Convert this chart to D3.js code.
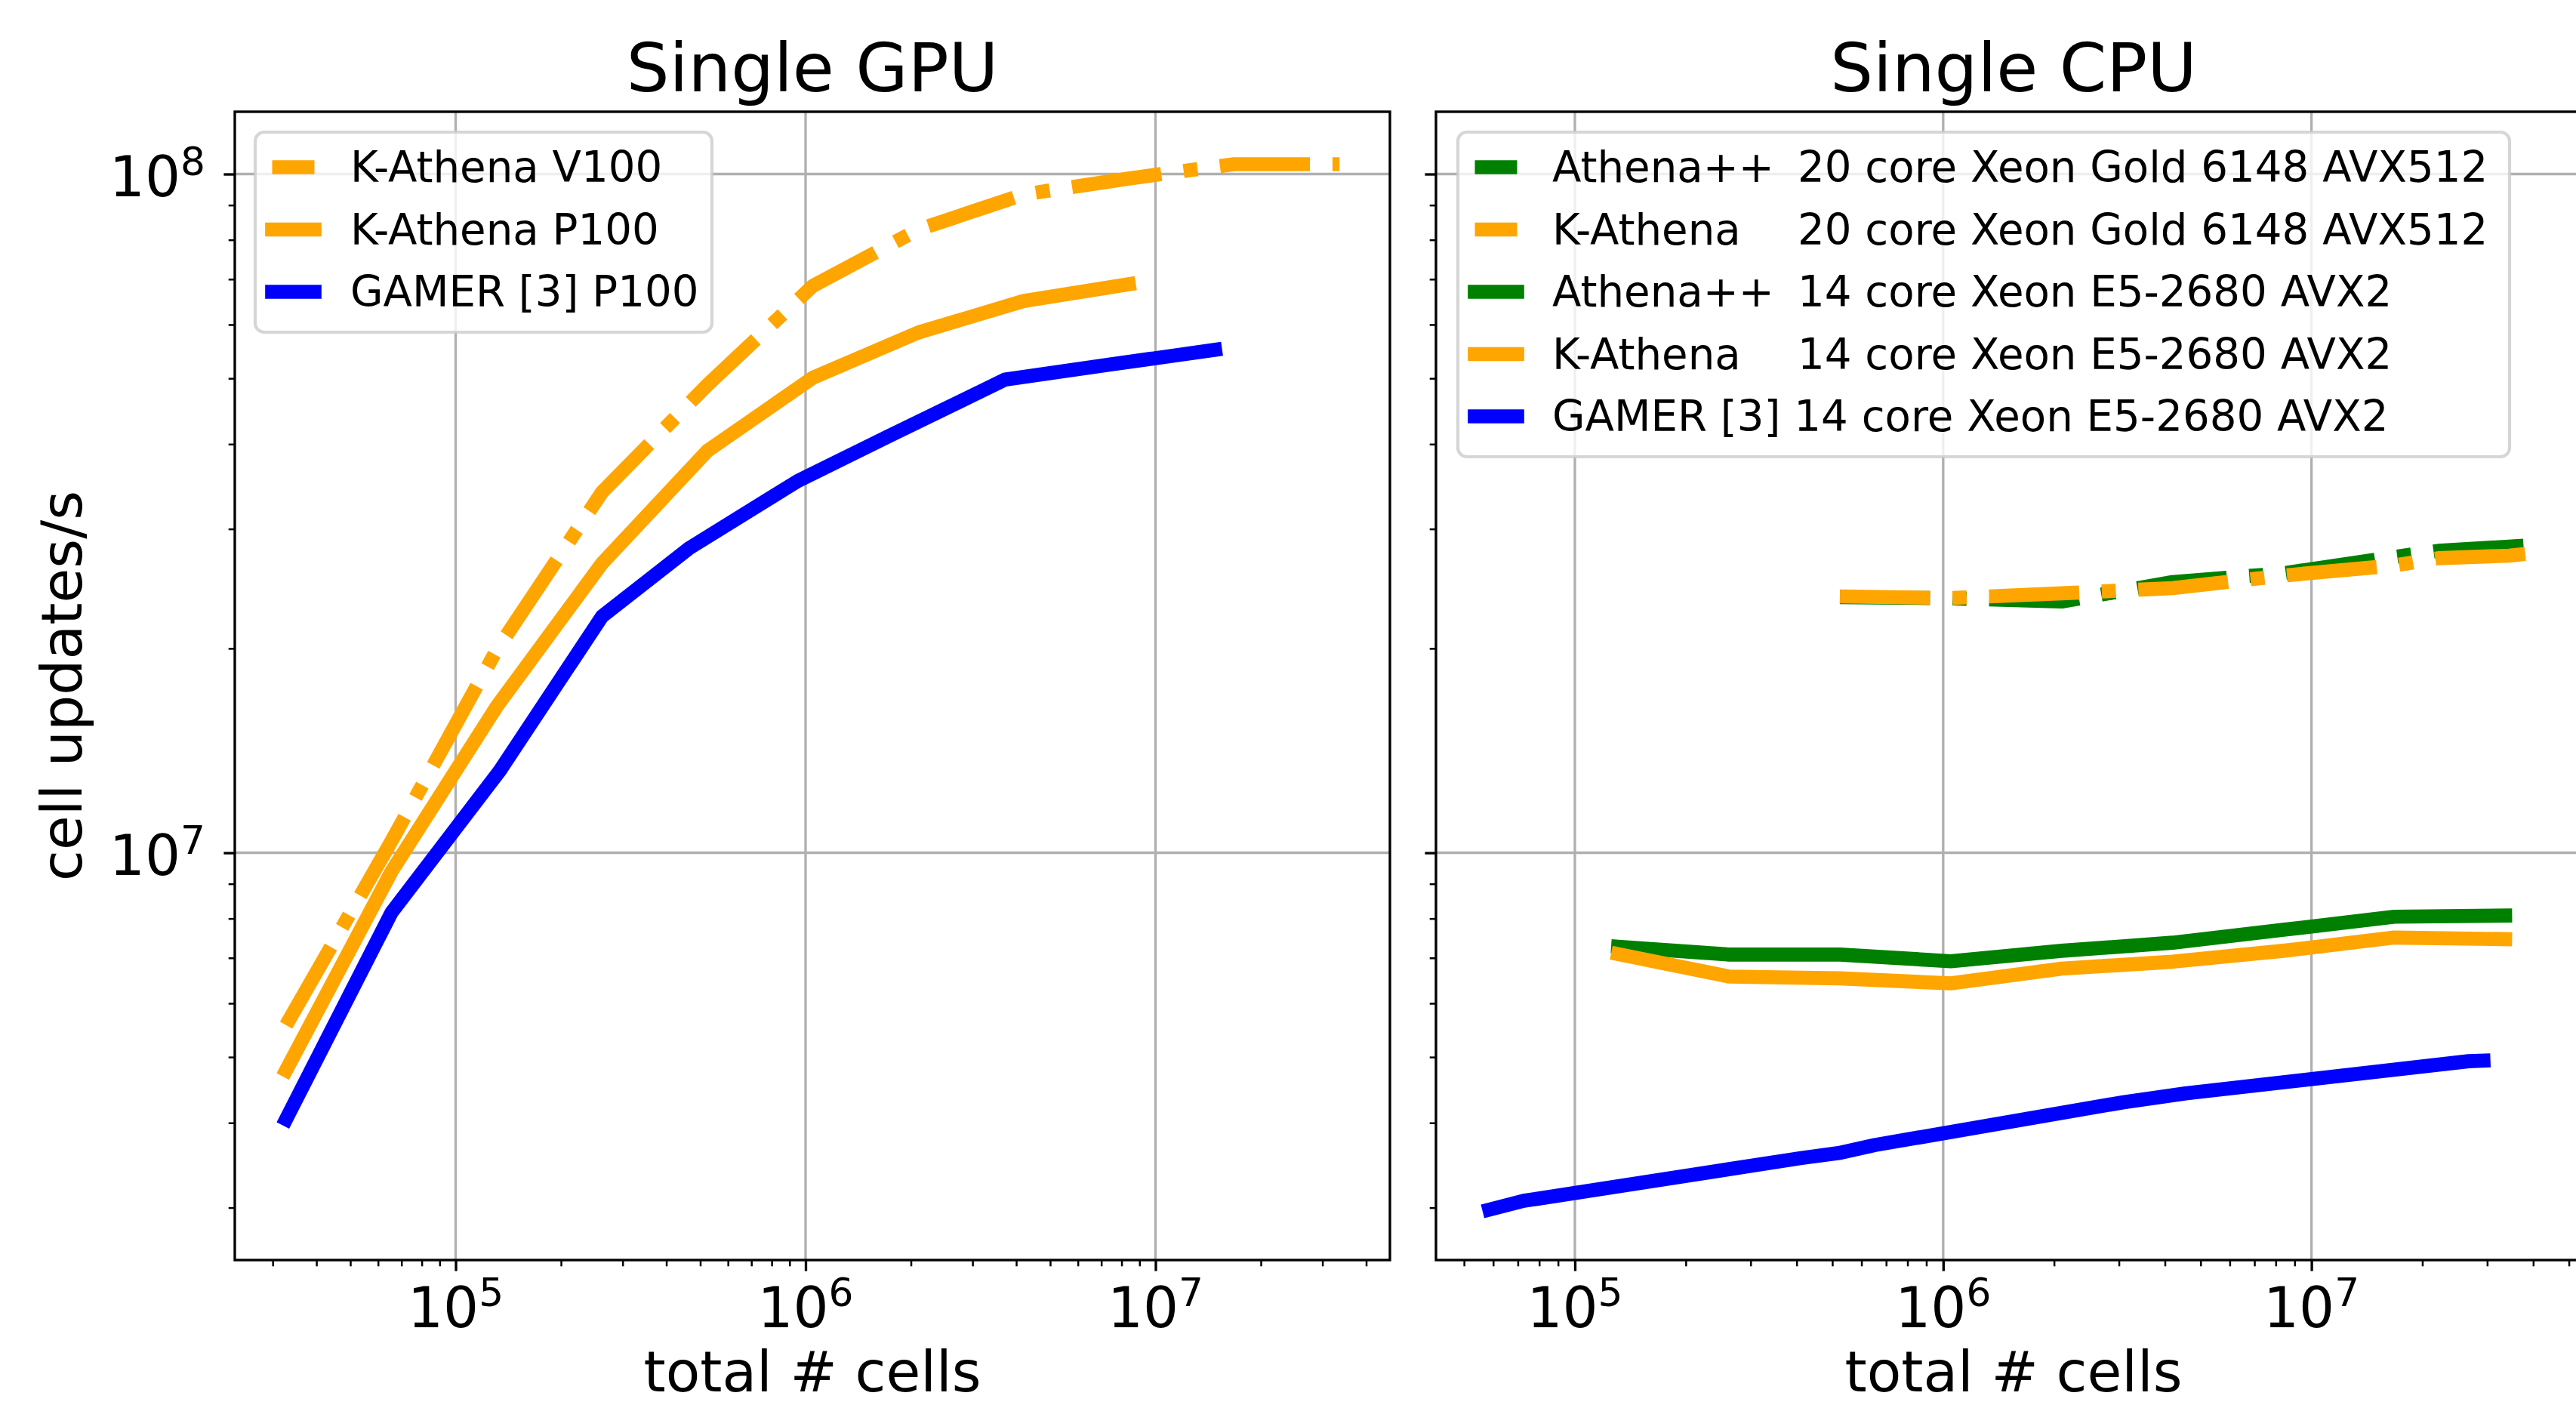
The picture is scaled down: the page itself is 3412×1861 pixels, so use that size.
<!DOCTYPE html>
<html><head><meta charset="utf-8">
<script src="https://cdn.jsdelivr.net/npm/d3@7"></script>
<style>
body{margin:0;background:#fff;overflow:hidden}
text{font-family:"DejaVu Sans",sans-serif;white-space:pre;fill:#000}
</style>
</head><body>
<svg id="chart" width="3412" height="1861"></svg>
<script>
// ---------------- DATA ----------------
const panelTitles = ["Single GPU", "Single CPU"];
const xLabel = "total # cells";
const yLabel = "cell updates/s";
const xMajorTicks = [1e5, 1e6, 1e7];
const xTickExponents = ["5", "6", "7"];
const yMajorTicks = [1e7, 1e8];
const yTickExponents = ["7", "8"];

// Single GPU
const kathV100Cells   = [32768, 65536, 131072, 262144, 524288, 1048576, 2097152, 4194304, 8388608, 16777216, 33554432];
const kathV100Updates = [5.57e6, 1.04e7, 1.99e7, 3.40e7, 4.89e7, 6.84e7, 8.28e7, 9.33e7, 9.85e7, 1.034e8, 1.034e8];
const kathP100Cells   = [32768, 65536, 131072, 262144, 524288, 1048576, 2097152, 4194304, 8388608];
const kathP100Updates = [4.78e6, 9.38e6, 1.643e7, 2.67e7, 3.91e7, 5.01e7, 5.84e7, 6.50e7, 6.88e7];
const gamerP100Cells   = [32768, 65536, 134000, 262144, 465000, 950000, 1730000, 3720000, 7430000, 14800000];
const gamerP100Updates = [4.05e6, 8.16e6, 1.323e7, 2.23e7, 2.81e7, 3.53e7, 4.11e7, 4.98e7, 5.24e7, 5.51e7];

// Single CPU
const cpu20Cells       = [524288, 1048576, 2097152, 4194304, 8388608, 16777216, 22100000, 34400000, 38800000];
const athena20Updates  = [2.380e7, 2.371e7, 2.345e7, 2.505e7, 2.581e7, 2.728e7, 2.785e7, 2.825e7, 2.838e7];
const kath20Updates    = [2.386e7, 2.373e7, 2.411e7, 2.454e7, 2.561e7, 2.650e7, 2.716e7, 2.740e7, 2.759e7];
const cpu14Cells       = [131072, 262144, 524288, 1048576, 2097152, 4194304, 8388608, 16777216, 33554432];
const athena14Updates  = [7.27e6, 7.08e6, 7.08e6, 6.92e6, 7.17e6, 7.37e6, 7.70e6, 8.05e6, 8.08e6];
const kath14Updates    = [7.09e6, 6.57e6, 6.53e6, 6.42e6, 6.75e6, 6.91e6, 7.17e6, 7.50e6, 7.46e6];
const gamerCpuCells    = [58600, 72600, 412000, 520000, 653000, 3090000, 4550000, 26700000, 29300000];
const gamerCpuUpdates  = [2.98e6, 3.07e6, 3.55e6, 3.61e6, 3.71e6, 4.29e6, 4.42e6, 4.93e6, 4.94e6];

// legend labels: code name + hardware (second column aligned)
const gpuLegendNames   = ["K-Athena V100", "K-Athena P100", "GAMER [3] P100"];
const cpuLegendNames   = ["Athena++", "K-Athena", "Athena++", "K-Athena", "GAMER [3] 14 core Xeon E5-2680 AVX2"];
const cpuLegendConfigs = ["20 core Xeon Gold 6148 AVX512", "20 core Xeon Gold 6148 AVX512",
                          "14 core Xeon E5-2680 AVX2", "14 core Xeon E5-2680 AVX2", ""];

const gpuSeries = [
  {name: gpuLegendNames[0], config: "", cells: kathV100Cells, values: kathV100Updates, color: "orange", dash: true},
  {name: gpuLegendNames[1], config: "", cells: kathP100Cells, values: kathP100Updates, color: "orange", dash: false},
  {name: gpuLegendNames[2], config: "", cells: gamerP100Cells, values: gamerP100Updates, color: "blue", dash: false}
];
const cpuSeries = [
  {name: cpuLegendNames[0], config: cpuLegendConfigs[0], cells: cpu20Cells, values: athena20Updates, color: "green", dash: true},
  {name: cpuLegendNames[1], config: cpuLegendConfigs[1], cells: cpu20Cells, values: kath20Updates, color: "orange", dash: true},
  {name: cpuLegendNames[2], config: cpuLegendConfigs[2], cells: cpu14Cells, values: athena14Updates, color: "green", dash: false},
  {name: cpuLegendNames[3], config: cpuLegendConfigs[3], cells: cpu14Cells, values: kath14Updates, color: "orange", dash: false},
  {name: cpuLegendNames[4], config: cpuLegendConfigs[4], cells: gamerCpuCells, values: gamerCpuUpdates, color: "blue", dash: false}
];

// ---------------- LAYOUT ----------------
const plotTop = 148, plotBottom = 1669;
const yDomain = [2.5113e6, 1.2354e8];
const panels = [
  {left: 311, right: 1841, xDomain: [23380, 4.677e7], series: gpuSeries, title: panelTitles[0], yLabels: true,
   legend: {x: 338, y: 175, w: 605, rows: 3, textX: 464, colX: 0, handleX: 360.5}},
  {left: 1902, right: 3432, xDomain: [41960, 5.745e7], series: cpuSeries, title: panelTitles[1], yLabels: false,
   legend: {x: 1931, y: 175, w: 1393, rows: 5, textX: 2056, colX: 2381, handleX: 1953.5}}
];

const LW = 18.66;
const dashArr = [6.4*LW, 1.6*LW, 1*LW, 1.6*LW].join(" ");
const spineW = 3.33, gridW = 3.33;
const majorLen = 14.6, minorLen = 8.3;
const tickFS = 74, labelFS = 74.5, titleFS = 89.5, legendFS = 56.2;

const svg = d3.select("#chart");

function minorTicks(domain) {
  const out = [];
  const lo = Math.floor(Math.log10(domain[0])), hi = Math.ceil(Math.log10(domain[1]));
  for (let e = lo; e <= hi; e++) for (let m = 2; m <= 9; m++) {
    const v = m * Math.pow(10, e);
    if (v >= domain[0] && v <= domain[1]) out.push(v);
  }
  return out;
}

function powText(sel, exp, fs) {
  sel.append("tspan").text("10");
  sel.append("tspan").attr("dy", -0.38*fs).attr("font-size", fs*0.7).text(exp);
}

panels.forEach(p => {
  const x = d3.scaleLog().domain(p.xDomain).range([p.left, p.right]);
  const y = d3.scaleLog().domain(yDomain).range([plotBottom, plotTop]);
  const g = svg.append("g");

  // grid
  g.selectAll(".gx").data(xMajorTicks).enter().append("line")
    .attr("x1", d => x(d)).attr("x2", d => x(d)).attr("y1", plotTop).attr("y2", plotBottom)
    .attr("stroke", "#b0b0b0").attr("stroke-width", gridW);
  g.selectAll(".gy").data(yMajorTicks).enter().append("line")
    .attr("x1", p.left).attr("x2", p.right).attr("y1", d => y(d)).attr("y2", d => y(d))
    .attr("stroke", "#b0b0b0").attr("stroke-width", gridW);

  // lines
  const line = d3.line().x(d => x(d[0])).y(d => y(d[1]));
  p.series.forEach(s => {
    const pts = s.cells.map((c, i) => [c, s.values[i]]);
    g.append("path").attr("d", line(pts)).attr("fill", "none")
      .attr("stroke", s.color).attr("stroke-width", LW)
      .attr("stroke-linejoin", "round")
      .attr("stroke-linecap", s.dash ? "butt" : "square")
      .attr("stroke-dasharray", s.dash ? dashArr : null);
  });

  // axes ticks
  const xAxisMajor = d3.axisBottom(x).tickValues(xMajorTicks).tickSize(majorLen).tickFormat("");
  const xAxisMinor = d3.axisBottom(x).tickValues(minorTicks(p.xDomain)).tickSize(minorLen).tickFormat("");
  const yAxisMajor = d3.axisLeft(y).tickValues(yMajorTicks).tickSize(majorLen).tickFormat("");
  const yAxisMinor = d3.axisLeft(y).tickValues(minorTicks(yDomain)).tickSize(minorLen).tickFormat("");
  const styleAxis = (sel, w) => { sel.select(".domain").remove(); sel.selectAll("line").attr("stroke", "#000").attr("stroke-width", w); };
  g.append("g").attr("transform", `translate(0,${plotBottom})`).call(xAxisMajor).call(s => styleAxis(s, spineW));
  g.append("g").attr("transform", `translate(0,${plotBottom})`).call(xAxisMinor).call(s => styleAxis(s, 2.5));
  g.append("g").attr("transform", `translate(${p.left},0)`).call(yAxisMajor).call(s => styleAxis(s, spineW));
  g.append("g").attr("transform", `translate(${p.left},0)`).call(yAxisMinor).call(s => styleAxis(s, 2.5));

  // spines
  g.append("rect").attr("x", p.left).attr("y", plotTop).attr("width", p.right - p.left).attr("height", plotBottom - plotTop)
    .attr("fill", "none").attr("stroke", "#000").attr("stroke-width", spineW);

  // tick labels
  xMajorTicks.forEach((v, i) => {
    const t = g.append("text").attr("x", x(v)).attr("y", 1758).attr("text-anchor", "middle").attr("font-size", tickFS);
    powText(t, xTickExponents[i], tickFS);
  });
  if (p.yLabels) {
    yMajorTicks.forEach((v, i) => {
      const t = g.append("text").attr("x", 272).attr("y", y(v) + 29.5).attr("text-anchor", "end").attr("font-size", tickFS);
      powText(t, yTickExponents[i], tickFS);
    });
    g.append("text").attr("transform", `translate(108,${(plotTop + plotBottom) / 2}) rotate(-90)`)
      .attr("text-anchor", "middle").attr("font-size", labelFS).text(yLabel);
  }
  // x label
  g.append("text").attr("x", (p.left + p.right) / 2).attr("y", 1843).attr("text-anchor", "middle")
    .attr("font-size", labelFS).text(xLabel);
  // title
  g.append("text").attr("x", (p.left + p.right) / 2).attr("y", 120.5).attr("text-anchor", "middle")
    .attr("font-size", titleFS).text(p.title);

  // legend
  const L = p.legend, rowH = 82.5;
  const lg = g.append("g");
  lg.append("rect").attr("x", L.x).attr("y", L.y).attr("width", L.w).attr("height", 265 + (L.rows - 3) * rowH)
    .attr("rx", 12).attr("fill", "rgba(255,255,255,0.8)").attr("stroke", "rgba(204,204,204,0.8)").attr("stroke-width", 4.2);
  p.series.forEach((s, i) => {
    const by = 241 + i * rowH;
    lg.append("line").attr("x1", L.handleX).attr("x2", L.handleX + 56).attr("y1", by - 19.5).attr("y2", by - 19.5)
      .attr("stroke", s.color).attr("stroke-width", LW)
      .attr("stroke-linecap", s.dash ? "butt" : "square");
    const t = lg.append("text").attr("x", L.textX).attr("y", by).attr("font-size", legendFS);
    t.append("tspan").text(s.name);
    if (s.config) t.append("tspan").attr("x", L.colX).text(s.config);
  });
});
</script>
</body></html>
